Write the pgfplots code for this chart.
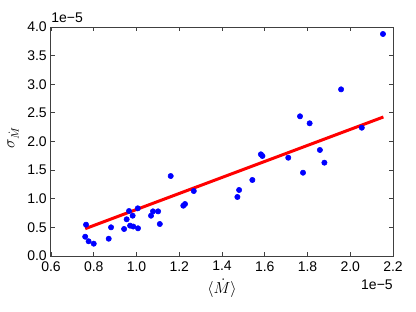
\documentclass[border=0pt]{standalone}
\usepackage{fontspec}
\setmainfont{Liberation Sans}
\usepackage{pgfplots}
\pgfplotsset{compat=1.18}

\pgfplotstableread{
x y
0.764 0.547
0.760 0.337
0.776 0.257
0.800 0.215
0.870 0.302
0.881 0.501
0.942 0.472
0.954 0.641
0.965 0.786
0.970 0.530
0.985 0.515
0.982 0.704
1.006 0.833
1.007 0.484
1.068 0.704
1.077 0.780
1.101 0.780
1.109 0.559
1.160 1.397
1.219 0.879
1.227 0.908
1.268 1.135
1.472 1.031
1.480 1.153
1.542 1.328
1.582 1.776
1.589 1.747
1.710 1.717
1.779 1.455
1.858 1.852
1.879 1.630
1.765 2.440
1.810 2.318
1.957 2.911
2.054 2.241
2.153 3.878
}\pts

\pgfplotstableread{
x y
0.760 0.477
2.155 2.428
}\fit

\begin{document}
\begin{tikzpicture}
\begin{axis}[
    name=ax,
    scale only axis,
    width=256.5pt, height=171.75pt,
    xmin=0.6, xmax=2.2, ymin=0, ymax=4.0,
    xtick={0.6,0.8,...,2.2},
    ytick={0,0.5,...,4.0},
    tick align=inside,
    major tick length=3pt,
    axis line style={black!75, line width=0.75pt},
    every tick/.style={black!75, line width=0.6pt},
    xtick pos=both, ytick pos=both,
    /pgf/number format/.cd, fixed, fixed zerofill, precision=1, assume math mode=true,
    /pgfplots/.cd,
    tick label style={font=\fontsize{10.5}{12}\selectfont},
    xticklabel style={inner sep=0pt, yshift=-3.75pt},
    yticklabel style={inner sep=0pt, xshift=-3pt},
    xlabel={$\langle \dot M\rangle$},
    ylabel={$\sigma_{\dot M}$},
    label style={font=\fontsize{11.5}{13}\selectfont},
    xlabel style={at={(axis description cs:0.5,-0.14)}, anchor=center},
    ylabel style={at={(axis description cs:-0.111,0.515)}, anchor=center},
    clip=false,
]
\addplot[only marks, mark=*, mark size=2pt, draw=blue, fill=blue] table[x=x,y=y] {\pts};
\addplot[red, line width=2.25pt] table[x=x,y=y] {\fit};
\end{axis}
\node[anchor=south west, inner sep=0pt, font=\fontsize{10.5}{12}\selectfont] at ([yshift=3pt]ax.north west) {1e−5};
\node[anchor=north east, inner sep=0pt, font=\fontsize{10.5}{12}\selectfont] at ([yshift=-18pt]ax.south east) {1e−5};
\pgfresetboundingbox
\path ([xshift=-38.25pt,yshift=-41.25pt]ax.south west) rectangle ([xshift=17.25pt,yshift=20.25pt]ax.north east);
\end{tikzpicture}
\end{document}
